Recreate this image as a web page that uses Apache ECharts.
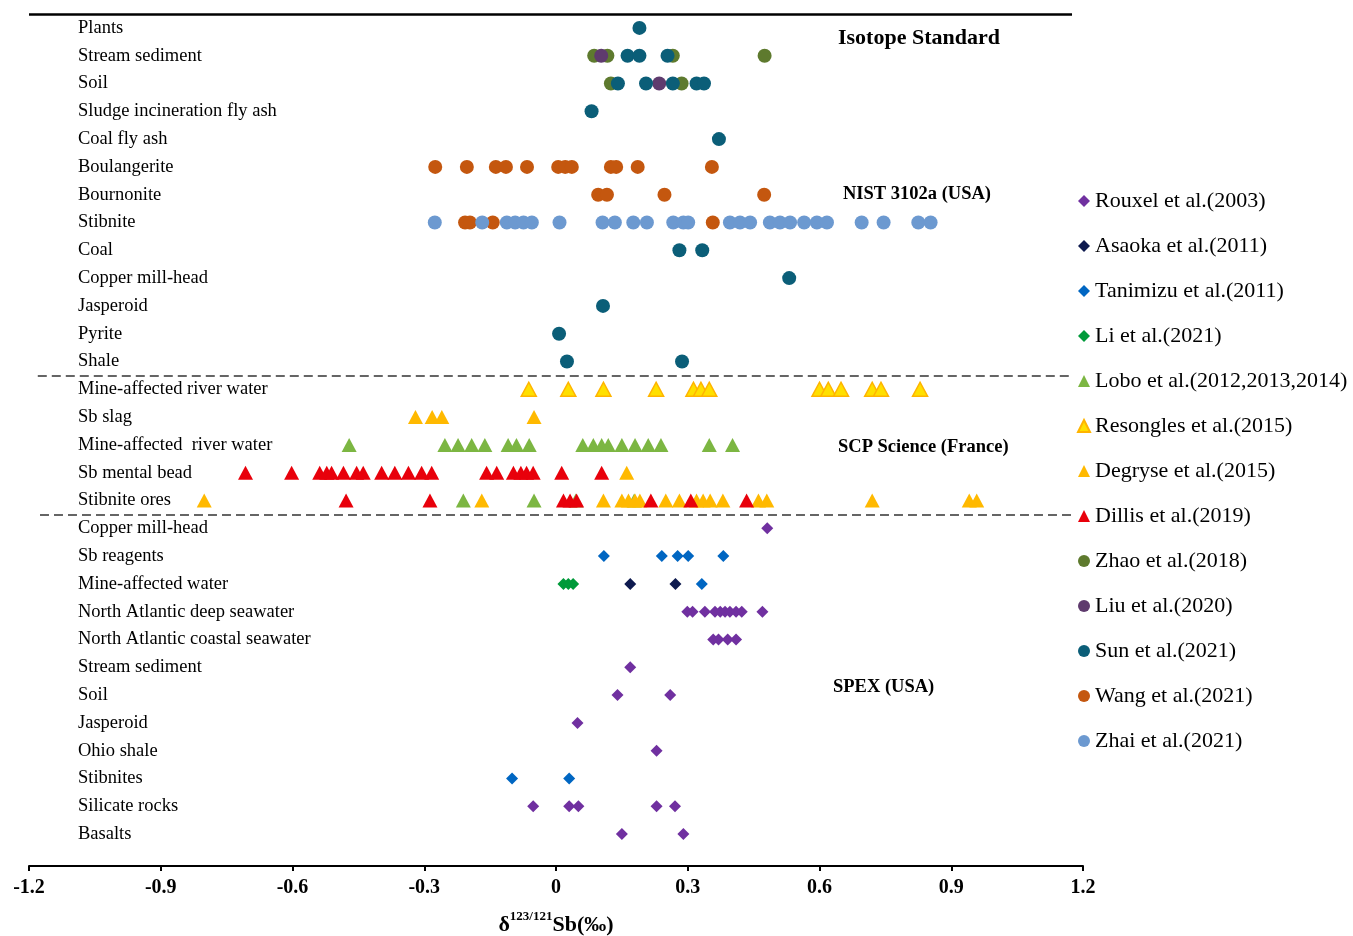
<!DOCTYPE html>
<html>
<head>
<meta charset="utf-8">
<title>Sb isotope standards</title>
<script src="https://cdn.jsdelivr.net/npm/echarts@6.0.0/dist/echarts.min.js"></script>
<style>
  html, body { margin: 0; padding: 0; background: #fff; }
  #chart { width: 1353px; height: 936px; }
</style>
</head>
<body>
<div id="chart"></div>
<script>
// sample types, top to bottom (index = row)
const rowNames = [
  "Plants", "Stream sediment", "Soil", "Sludge incineration fly ash", "Coal fly ash",
  "Boulangerite", "Bournonite", "Stibnite", "Coal", "Copper mill-head",
  "Jasperoid", "Pyrite", "Shale",
  "Mine-affected river water", "Sb slag", "Mine-affected  river water", "Sb mental bead", "Stibnite ores",
  "Copper mill-head", "Sb reagents", "Mine-affected water", "North Atlantic deep seawater",
  "North Atlantic coastal seawater", "Stream sediment", "Soil", "Jasperoid", "Ohio shale",
  "Stibnites", "Silicate rocks", "Basalts"
];

// [row, δ123/121Sb]
const rouxel = [[18, 0.481],
  [21, 0.299], [21, 0.311], [21, 0.339], [21, 0.362], [21, 0.374], [21, 0.385], [21, 0.396], [21, 0.41], [21, 0.423], [21, 0.47],
  [22, 0.358], [22, 0.37], [22, 0.391], [22, 0.41],
  [23, 0.169], [24, 0.14], [24, 0.26], [25, 0.049], [26, 0.229],
  [28, -0.052], [28, 0.03], [28, 0.051], [28, 0.229], [28, 0.271],
  [29, 0.15], [29, 0.29]];
const asaoka = [[20, 0.169], [20, 0.272]];
const tanimizu = [[19, 0.109], [19, 0.241], [19, 0.277], [19, 0.301], [19, 0.381], [20, 0.332], [27, -0.1], [27, 0.03]];
const li = [[20, 0.017], [20, 0.028], [20, 0.039]];
const lobo = [[15, -0.471], [15, -0.253], [15, -0.223], [15, -0.192], [15, -0.162], [15, -0.109], [15, -0.09], [15, -0.061],
  [15, 0.061], [15, 0.085], [15, 0.104], [15, 0.119], [15, 0.15], [15, 0.18], [15, 0.21], [15, 0.239], [15, 0.349], [15, 0.402],
  [17, -0.211], [17, -0.05], [17, 0.045], [17, 0.178]];
const resongles = [[13, -0.062], [13, 0.028], [13, 0.108], [13, 0.228], [13, 0.313], [13, 0.33], [13, 0.349],
  [13, 0.6], [13, 0.62], [13, 0.649], [13, 0.72], [13, 0.74], [13, 0.829]];
const degryse = [[14, -0.32], [14, -0.282], [14, -0.26], [14, -0.05], [16, 0.161],
  [17, -0.801], [17, -0.169], [17, 0.108], [17, 0.15], [17, 0.165], [17, 0.18], [17, 0.191], [17, 0.25], [17, 0.281],
  [17, 0.32], [17, 0.335], [17, 0.351], [17, 0.38], [17, 0.461], [17, 0.48], [17, 0.72], [17, 0.941], [17, 0.958]];
const dillis = [[16, -0.707], [16, -0.602], [16, -0.538], [16, -0.522], [16, -0.511], [16, -0.484], [16, -0.454], [16, -0.439],
  [16, -0.397], [16, -0.367], [16, -0.336], [16, -0.306], [16, -0.283], [16, -0.158], [16, -0.135], [16, -0.097],
  [16, -0.08], [16, -0.067], [16, -0.052], [16, 0.013], [16, 0.104],
  [17, -0.478], [17, -0.287], [17, 0.017], [17, 0.032], [17, 0.047], [17, 0.216], [17, 0.307], [17, 0.434]];
const zhao = [[1, 0.087], [1, 0.117], [1, 0.266], [1, 0.475], [2, 0.125], [2, 0.286]];
const liu = [[1, 0.103], [2, 0.235]];
const sun = [[0, 0.19], [1, 0.163], [1, 0.19], [1, 0.254], [2, 0.141], [2, 0.205], [2, 0.266], [2, 0.32], [2, 0.337],
  [3, 0.081], [4, 0.371], [8, 0.281], [8, 0.333], [9, 0.531], [10, 0.107], [11, 0.007], [12, 0.025], [12, 0.287]];
const wang = [[5, -0.275], [5, -0.203], [5, -0.137], [5, -0.114], [5, -0.066], [5, 0.005], [5, 0.021], [5, 0.036],
  [5, 0.125], [5, 0.137], [5, 0.186], [5, 0.355],
  [6, 0.096], [6, 0.116], [6, 0.247], [6, 0.474],
  [7, -0.207], [7, -0.196], [7, -0.144], [7, 0.357]];
const zhai = [[7, -0.276], [7, -0.168], [7, -0.112], [7, -0.093], [7, -0.074], [7, -0.055], [7, 0.008], [7, 0.106],
  [7, 0.134], [7, 0.176], [7, 0.207], [7, 0.267], [7, 0.29], [7, 0.301], [7, 0.396], [7, 0.419], [7, 0.442],
  [7, 0.487], [7, 0.51], [7, 0.533], [7, 0.565], [7, 0.594], [7, 0.617], [7, 0.696], [7, 0.746], [7, 0.825], [7, 0.853]];

const serif = '"Liberation Serif", "Times New Roman", serif';

const studies = [
  { name: "Rouxel et al.(2003)", data: rouxel, symbol: "diamond", size: 12, color: "#7030A0" },
  { name: "Asaoka et al.(2011)", data: asaoka, symbol: "diamond", size: 12, color: "#0E1A4F" },
  { name: "Tanimizu et al.(2011)", data: tanimizu, symbol: "diamond", size: 12, color: "#0066C2" },
  { name: "Li et al.(2021)", data: li, symbol: "diamond", size: 12, color: "#009A3A" },
  { name: "Lobo et al.(2012,2013,2014)", data: lobo, symbol: "triangle", size: [15, 14], color: "#7CB642" },
  { name: "Resongles et al.(2015)", data: resongles, symbol: "triangle", size: [15, 14], color: "#FFE000", border: "#FFB400" },
  { name: "Degryse et al.(2015)", data: degryse, symbol: "triangle", size: [15, 14], color: "#FFB900" },
  { name: "Dillis et al.(2019)", data: dillis, symbol: "triangle", size: [15, 14], color: "#E8000B" },
  { name: "Zhao et al.(2018)", data: zhao, symbol: "circle", size: 14, color: "#5E7A2E" },
  { name: "Liu et al.(2020)", data: liu, symbol: "circle", size: 14, color: "#5F3B6E" },
  { name: "Sun et al.(2021)", data: sun, symbol: "circle", size: 14, color: "#0B5E78" },
  { name: "Wang et al.(2021)", data: wang, symbol: "circle", size: 14, color: "#C4570F" },
  { name: "Zhai et al.(2021)", data: zhai, symbol: "circle", size: 14, color: "#6C99D0" }
];

let myChart = echarts.init(document.getElementById("chart"));

let series = studies.map(s => ({
  name: s.name,
  type: "scatter",
  yAxisIndex: 0,
  symbol: s.symbol,
  symbolSize: s.size,
  itemStyle: {
    color: s.color,
    opacity: 1,
    borderColor: s.border || s.color,
    borderWidth: s.border ? 1.5 : 0
  },
  data: s.data.map(p => [p[1], p[0]])
}));

// frame line on top and the dashed separators between the standards
series.push({
  type: "scatter",
  yAxisIndex: 1,
  data: [],
  silent: true,
  markLine: {
    symbol: "none",
    silent: true,
    label: { show: false },
    lineStyle: { color: "#333", type: [9, 5], width: 1.5 },
    data: [
      [{ coord: [-1.2, -0.5], lineStyle: { color: "#000", type: "solid", width: 2.5 } }, { coord: [1.175, -0.5] }],
      [{ coord: [-1.18, 12.5] }, { coord: [1.175, 12.5] }],
      [{ coord: [-1.175, 17.5] }, { coord: [1.175, 17.5] }]
    ]
  }
});

let option = {
  animation: false,
  backgroundColor: "#fff",
  grid: { left: 29, right: 270, top: 14, bottom: 88, outerBoundsMode: "none" },
  legend: {
    orient: "vertical",
    left: 1077,
    top: 190,
    padding: 0,
    itemWidth: 12,
    itemHeight: 12,
    itemGap: 23,
    data: studies.map(s => s.name),
    textStyle: { fontFamily: serif, fontSize: 22, color: "#000", lineHeight: 22 }
  },
  xAxis: {
    type: "value",
    min: -1.2,
    max: 1.2,
    interval: 0.3,
    offset: 18,
    splitLine: { show: false },
    axisLine: { onZero: false, lineStyle: { color: "#000", width: 2 } },
    axisTick: { show: true, length: 5, lineStyle: { color: "#000", width: 2 } },
    axisLabel: { margin: 12, fontFamily: serif, fontWeight: "bold", fontSize: 20, color: "#000" },
    name: "{d|δ}{s|123/121}{d|Sb(‰)}",
    nameLocation: "middle",
    nameGap: 44,
    nameTextStyle: {
      rich: {
        d: { fontFamily: serif, fontWeight: "bold", fontSize: 22, color: "#000", verticalAlign: "bottom", lineHeight: 26 },
        s: { fontFamily: serif, fontWeight: "bold", fontSize: 13, color: "#000", verticalAlign: "top", lineHeight: 26 }
      }
    }
  },
  yAxis: [
    {
      type: "category",
      data: rowNames,
      inverse: true,
      axisLine: { show: false },
      axisTick: { show: false },
      splitLine: { show: false },
      axisLabel: { inside: true, margin: 49, interval: 0, fontFamily: serif, fontSize: 18.5, color: "#000" }
    },
    { type: "value", min: -0.5, max: 29.5, inverse: true, show: false }
  ],
  graphic: [
    { type: "text", x: 838, y: 38, style: { text: "Isotope Standard", font: 'bold 22px "Liberation Serif"', fill: "#000", verticalAlign: "middle" } },
    { type: "text", x: 843, y: 194, style: { text: "NIST 3102a (USA)", font: 'bold 18.5px "Liberation Serif"', fill: "#000", verticalAlign: "middle" } },
    { type: "text", x: 838, y: 447, style: { text: "SCP Science (France)", font: 'bold 18.5px "Liberation Serif"', fill: "#000", verticalAlign: "middle" } },
    { type: "text", x: 833, y: 687, style: { text: "SPEX (USA)", font: 'bold 18.5px "Liberation Serif"', fill: "#000", verticalAlign: "middle" } }
  ],
  series: series
};

myChart.setOption(option);
</script>
</body>
</html>
